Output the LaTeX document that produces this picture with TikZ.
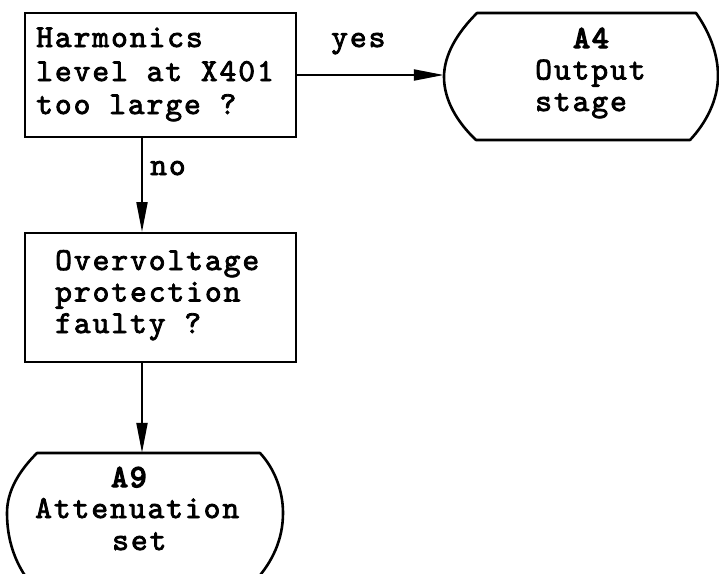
\documentclass[tikz,border=0pt]{standalone}
\usepackage{fontspec}
\usetikzlibrary{arrows.meta}
\newfontfamily\tw{lmmono10-regular.otf}[LetterSpace=6,FakeBold=2.5]
\newfontfamily\twb{lmmono10-regular.otf}[LetterSpace=6,FakeBold=4.5]
\begin{document}
\begin{tikzpicture}[x=1pt,y=-1pt,
  txt/.style={anchor=base west,inner sep=0pt,font=\tw\fontsize{32}{36}\selectfont},
  txtb/.style={anchor=base west,inner sep=0pt,font=\twb\fontsize{32}{36}\selectfont},
  box/.style={draw,line width=2pt,inner sep=0pt,rectangle},
  hold/.style={draw=none,inner sep=0pt,rectangle},
  term/.style={line width=2.6pt,line join=round},
  conn/.style={line width=2pt,-{Triangle[length=30pt,width=11pt]}}]
\clip (0,0) rectangle (719,573);
\fill[white] (0,0) rectangle (719,573);
% boxes
\node[box,minimum width=271pt,minimum height=124pt] (b1) at (160.5,75) {};
\node[box,minimum width=271pt,minimum height=129pt] (b2) at (160.5,297.5) {};
% terminal holders
\node[hold,minimum width=274pt,minimum height=127pt] (a4) at (581,76.5) {};
\node[hold,minimum width=276pt,minimum height=124pt] (a9) at (145,515) {};
% terminal A4 outline
\draw[term] (477,13) -- (696,13)
  .. controls (708,30) and (718,52) .. (718,76)
  .. controls (718,100) and (706,123) .. (690,140)
  -- (476,140)
  .. controls (457,122) and (444,100) .. (444,77)
  .. controls (444,55) and (457,33) .. (477,13) -- cycle;
% terminal A9 outline
\draw[term] (37,453) -- (260,453)
  .. controls (274,468) and (283,490) .. (283,513)
  .. controls (283,540) and (272,562) .. (256,580)
  -- (28,580)
  .. controls (15,562) and (7,540) .. (7,513)
  .. controls (7,490) and (20,470) .. (37,453) -- cycle;
% texts
\node[txt] (t11) at (36,47) {Harmonics};
\node[txt] (t12) at (36,81) {level at X401};
\node[txt] (t13) at (36,114) {too large ?};
\node[txt] (t21) at (55,270) {Overvoltage};
\node[txt] (t22) at (55,301.5) {protection};
\node[txt] (t23) at (55,333) {faulty ?};
\node[txtb] (t41) at (573,48) {A4};
\node[txt] (t42) at (535,79.5) {Output};
\node[txt] (t43) at (535,111) {stage};
\node[txtb] (t91) at (111,487) {A9};
\node[txt] (t92) at (35,518) {Attenuation};
\node[txt] (t93) at (112,550) {set};
\node[txt] (yes) at (331,47) {yes};
\node[txt] (no) at (150,175) {no};
% connectors
\coordinate (spine) at (142,0);
\draw[conn] (b1.east) -- (b1.east -| a4.west);
\draw[conn] (b1.south -| spine) -- (b2.north -| spine);
\draw[conn] (b2.south -| spine) -- (a9.north -| spine);
\end{tikzpicture}
\end{document}
